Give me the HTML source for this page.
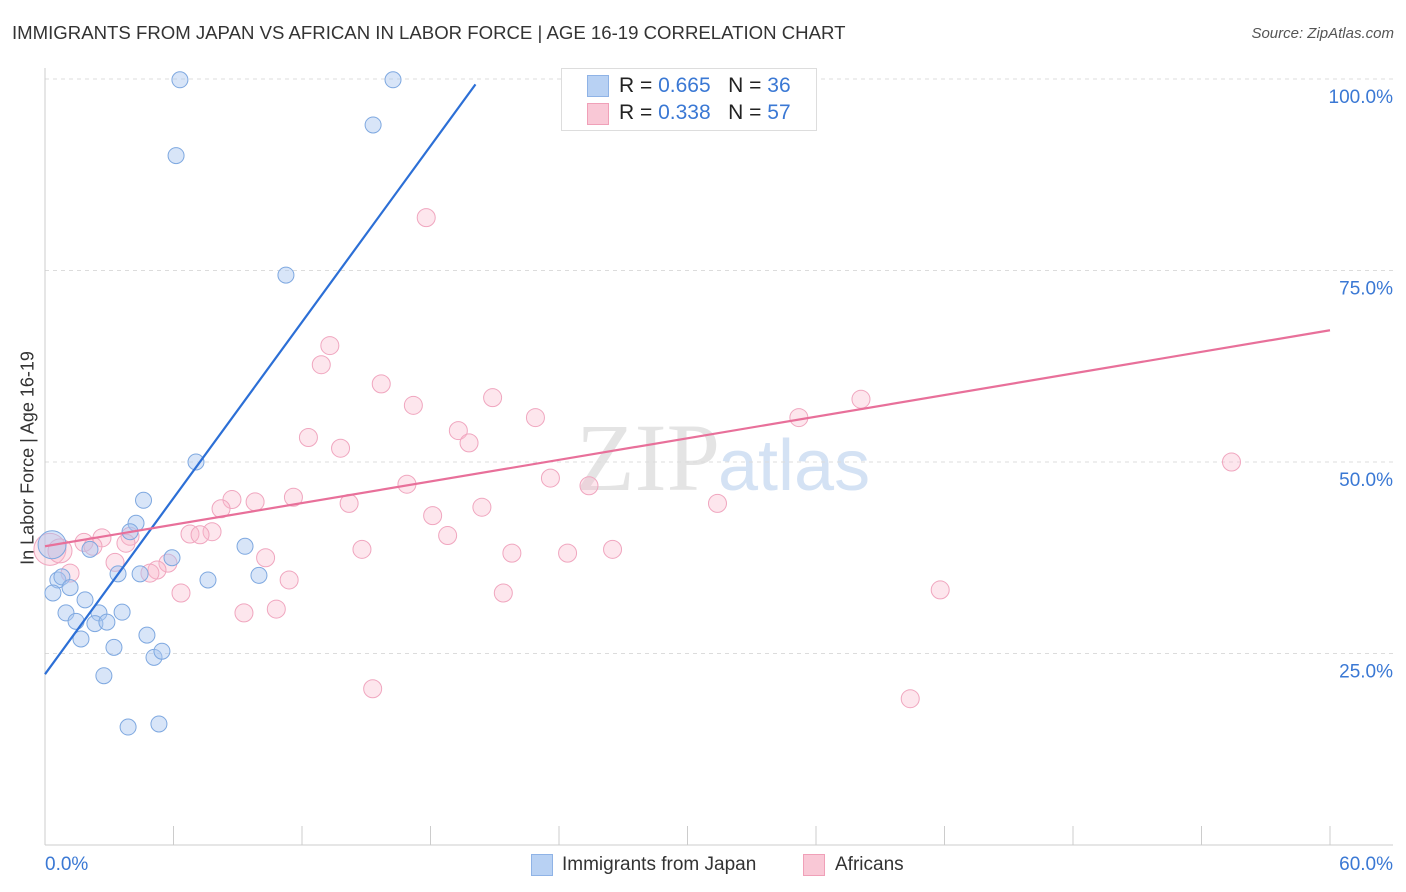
<!DOCTYPE html>
<html><head><meta charset="utf-8">
<style>
body{margin:0;background:#fff;font-family:"Liberation Sans",sans-serif;}
#wrap{position:relative;width:1406px;height:892px;overflow:hidden;}
.t{position:absolute;white-space:nowrap;}
</style></head>
<body>
<div id="wrap">
<div class="t" style="left:12px;top:22px;font-size:18.6px;color:#333;">IMMIGRANTS FROM JAPAN VS AFRICAN IN LABOR FORCE | AGE 16-19 CORRELATION CHART</div>
<div class="t" style="right:12px;top:25px;font-size:15px;color:#555;font-style:italic;">Source: ZipAtlas.com</div>
<svg id="svg" width="1406" height="892" style="position:absolute;left:0;top:0">
<text x="720" y="490" text-anchor="end" font-family="Liberation Serif,serif" font-size="96" fill="#e4e4e4">ZIP</text>
<text x="718" y="490" font-family="Liberation Sans,sans-serif" font-size="72" fill="#d4e2f4">atlas</text>
</svg>
<div style="position:absolute;left:561px;top:68px;width:254px;height:61px;border:1px solid #ddd;background:#fff;"></div>
<div style="position:absolute;left:587px;top:75px;width:20px;height:20px;background:#b8d1f3;border:1px solid #8fb3e6;"></div>
<div style="position:absolute;left:587px;top:103px;width:20px;height:20px;background:#f9c8d6;border:1px solid #f0a0b8;"></div>
<div class="t" style="left:619px;top:74px;font-size:21px;color:#222;">R = <span style="color:#3a78d4">0.665</span>&nbsp;&nbsp;&nbsp;N = <span style="color:#3a78d4">36</span></div>
<div class="t" style="left:619px;top:101px;font-size:21px;color:#222;">R = <span style="color:#3a78d4">0.338</span>&nbsp;&nbsp;&nbsp;N = <span style="color:#3a78d4">57</span></div>
<div class="t" style="left:28px;top:458px;font-size:18px;color:#333;transform:translate(-50%,-50%) rotate(-90deg);">In Labor Force | Age 16-19</div>
<div style="position:absolute;left:531px;top:854px;width:20px;height:20px;background:#b8d1f3;border:1px solid #8fb3e6;"></div>
<div class="t" style="left:562px;top:854px;font-size:19px;color:#333;">Immigrants from Japan</div>
<div style="position:absolute;left:803px;top:854px;width:20px;height:20px;background:#f9c8d6;border:1px solid #f0a0b8;"></div>
<div class="t" style="left:835px;top:854px;font-size:19px;color:#333;">Africans</div>
</div>
<script>
const yTicks=[25,50,75,100];
const xTickLabels=["0.0%","60.0%"];
const japanX=[6.30,16.25,6.12,15.32,11.25,7.05,4.6,4.25,3.97,2.1,0.33,0.6,0.79,1.17,0.37,3.41,4.44,5.93,7.61,9.34,9.99,1.87,0.98,2.52,3.6,1.45,2.33,2.89,1.68,4.76,3.22,5.09,5.46,2.75,3.88,5.32];
const japanY=[99.9,99.9,90.0,94.0,74.4,50.0,45.0,42.0,40.9,38.6,39.2,34.6,35.0,33.6,32.9,35.4,35.4,37.5,34.6,39.0,35.2,32.0,30.3,30.3,30.4,29.2,28.9,29.1,26.9,27.4,25.8,24.5,25.3,22.1,15.4,15.8];
const afrX=[17.8,13.3,12.9,15.7,17.2,20.9,22.9,19.3,19.8,12.3,13.8,23.6,16.9,25.4,8.73,9.81,11.6,14.2,20.4,31.4,8.22,18.1,7.8,6.77,7.24,18.8,3.97,2.66,1.82,2.24,3.78,14.8,21.8,24.4,26.5,10.3,3.27,5.74,5.23,4.9,1.17,11.4,6.35,21.4,9.29,10.8,15.3,40.4,41.8,55.4,38.1,35.2,25.6,33.1,34.9,0.23,0.7];
const afrY=[81.9,65.2,62.7,60.2,57.4,58.4,55.8,54.1,52.5,53.2,51.8,47.9,47.1,46.9,45.1,44.8,45.4,44.6,44.1,44.6,43.9,43.0,40.9,40.6,40.5,40.4,40.3,40.1,39.5,39.0,39.4,38.6,38.1,38.1,38.6,37.5,36.9,36.8,35.9,35.5,35.5,34.6,32.9,32.9,30.3,30.8,20.4,19.1,33.3,50.0,58.2,55.8,99.9,99.9,99.9,38.6,38.4];
const afrR=[9,9,9,9,9,9,9,9,9,9,9,9,9,9,9,9,9,9,9,9,9,9,9,9,9,9,9,9,9,9,9,9,9,9,9,9,9,9,9,9,9,9,9,9,9,9,9,9,9,9,9,9,9,9,9,16,12];
const japanLine=[[0,22.3],[20.1,99.3]];
const afrLine=[[0,39.0],[60,67.2]];
const X0=45,X1=1330,Y0=845,Y100=79;
const sx=v=>X0+(v/60)*(X1-X0);
const sy=v=>Y0-(v/100)*(Y0-Y100);
const svg=document.getElementById('svg');
const NS='http://www.w3.org/2000/svg';
function mk(tag,attrs){const e=document.createElementNS(NS,tag);for(const k in attrs)e.setAttribute(k,attrs[k]);svg.appendChild(e);return e;}
yTicks.forEach(t=>{
 const g=mk('line',{x1:X0,x2:1393,y1:sy(t),y2:sy(t),stroke:'#dcdcdc','stroke-dasharray':'4,4'});
 
 
 const tx=mk('text',{x:1393,y:sy(t)+24,'text-anchor':'end','font-size':19,fill:'#3a78d4','font-family':'Liberation Sans,sans-serif'});
 tx.textContent=t.toFixed(1)+'%';
 
 
});
const ax=mk('line',{x1:X0,x2:X0,y1:68,y2:Y0,stroke:'#ccc'});


const bx=mk('line',{x1:X0,x2:1393,y1:Y0,y2:Y0,stroke:'#ccc'});


for(let i=0;i<=10;i++){
 const l=mk('line',{x1:sx(i*6),x2:sx(i*6),y1:826,y2:Y0,stroke:'#ccc'});
 
 
}
[[0,45,'start'],[1,1393,'end']].forEach(([i,x,a])=>{
 const t=mk('text',{x:x,y:870,'text-anchor':a,'font-size':19,fill:'#3a78d4','font-family':'Liberation Sans,sans-serif'});
 t.textContent=xTickLabels[i];
 
 
});
afrX.forEach((v,i)=>{
 const c=mk('circle',{cx:sx(v),cy:sy(afrY[i]),r:afrR[i],fill:'rgba(248,184,204,0.35)',stroke:'#f0a6bf','stroke-width':1});
 
 
});
japanX.forEach((v,i)=>{
 const c=mk('circle',{cx:sx(v),cy:sy(japanY[i]),r:i==10?14:8,fill:'rgba(168,198,240,0.45)',stroke:'#7ea8e0','stroke-width':1});
 
 
});
const l1=mk('line',{x1:sx(japanLine[0][0]),y1:sy(japanLine[0][1]),x2:sx(japanLine[1][0]),y2:sy(japanLine[1][1]),stroke:'#2c6fd6','stroke-width':2.2});


const l2=mk('line',{x1:sx(afrLine[0][0]),y1:sy(afrLine[0][1]),x2:sx(afrLine[1][0]),y2:sy(afrLine[1][1]),stroke:'#e8709a','stroke-width':2.2});


</script>
</body></html>
